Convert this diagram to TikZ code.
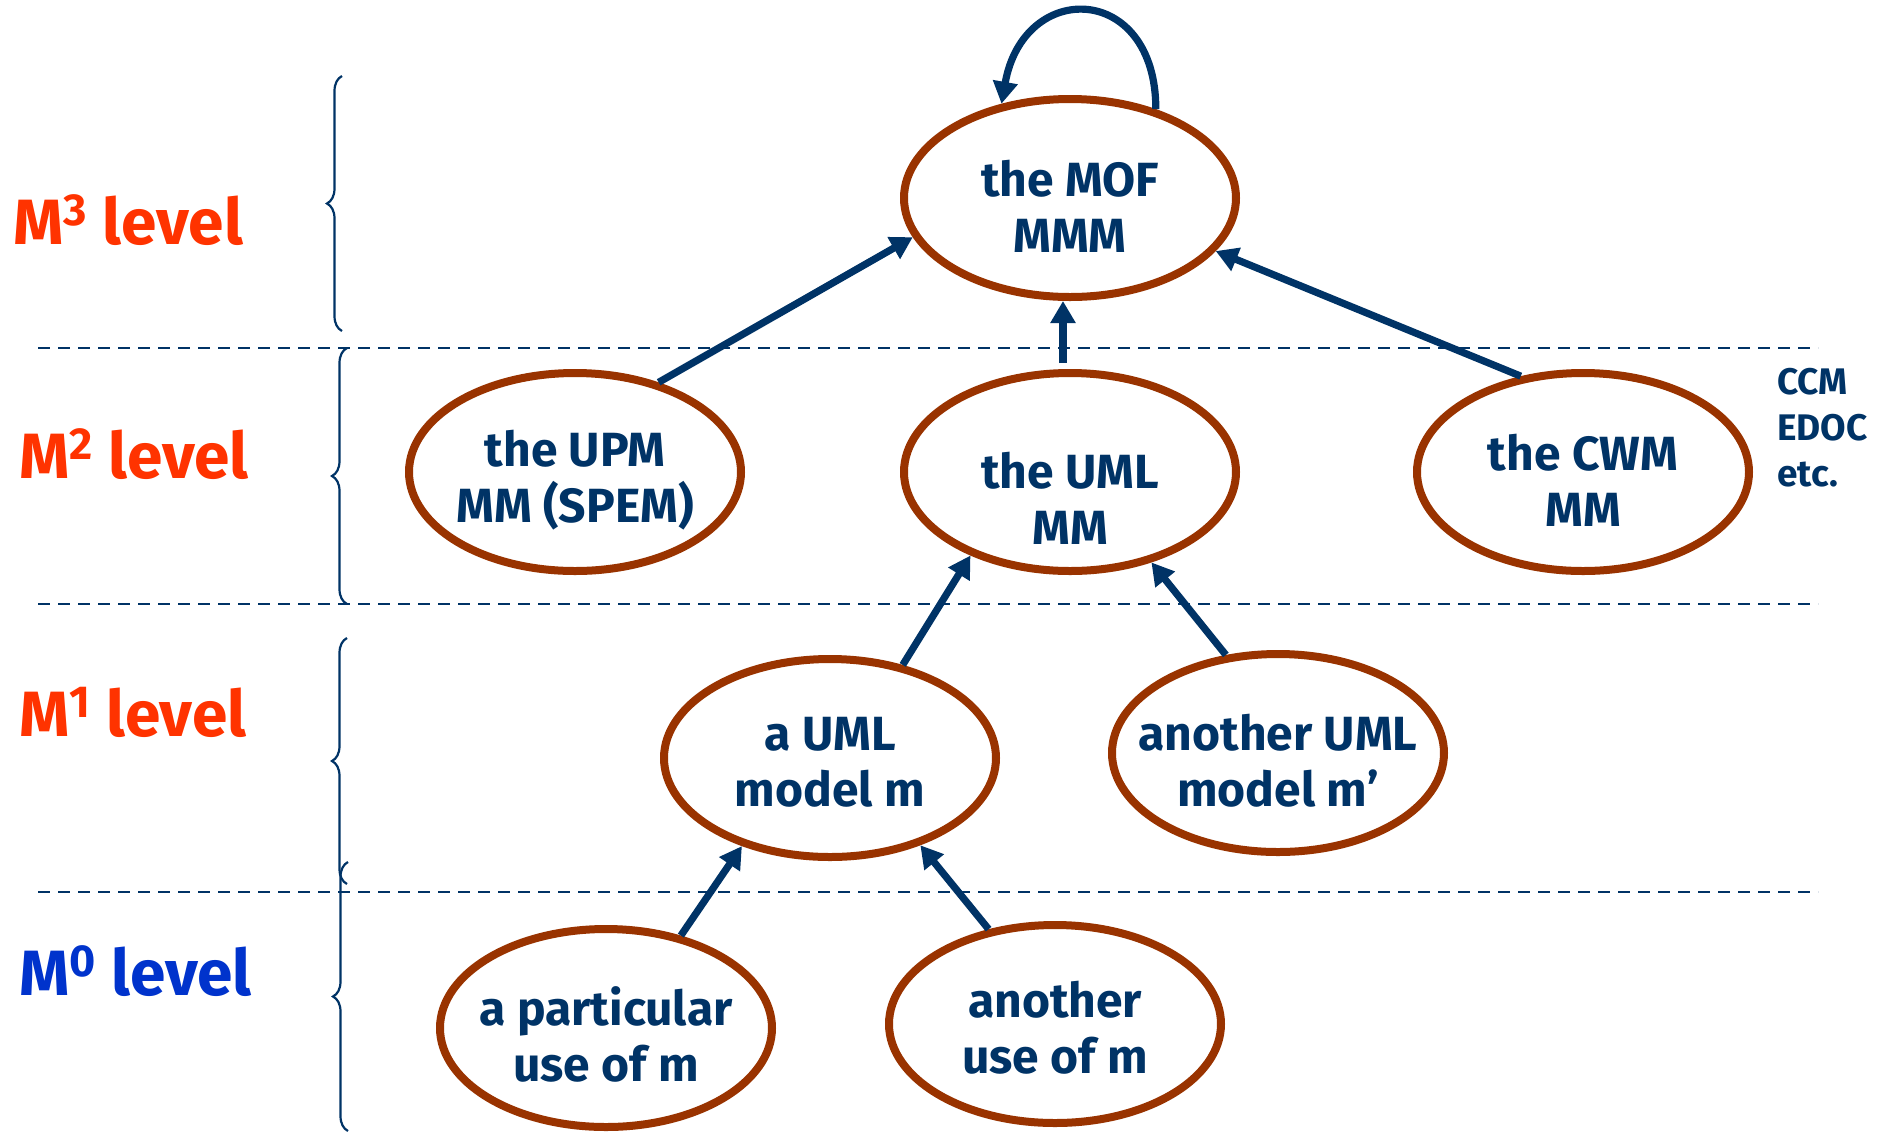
\documentclass[tikz,border=0pt]{standalone}
\usepackage{fontspec}
\setmainfont{Fira Sans}
\usetikzlibrary{shapes.geometric,arrows.meta,decorations.pathreplacing}
\definecolor{navy}{HTML}{003366}
\definecolor{rust}{HTML}{993300}
\definecolor{lvlred}{HTML}{FF3300}
\definecolor{lvlblue}{HTML}{0033CC}
\begin{document}
\begin{tikzpicture}[x=0.5pt,y=-0.5pt,
  ell/.style={ellipse,draw=rust,line width=4pt,minimum width=166pt,minimum height=99pt,inner sep=0pt},
  txt/.style={text=navy,font=\fontsize{24}{28}\selectfont\bfseries,align=center},
  lvl/.style={anchor=base west,font=\fontsize{32}{38}\selectfont\bfseries},
  arr/.style={draw=navy,line width=3.6pt,-{Triangle[length=11pt,width=12pt]}},
  sep/.style={draw=navy,line width=1.3pt,dash pattern=on 6pt off 4pt},
  brc/.style={draw=navy,line width=1.1pt,decorate,decoration={brace,amplitude=7.5pt}}
]
\useasboundingbox (0,0) rectangle (1881,1131);

% level separators
\draw[sep] (38,348) -- (1818,348);
\draw[sep] (38,604) -- (1818,604);
\draw[sep] (38,892) -- (1818,892);

% level braces
\draw[brc] (342,331) -- (342,76);
\draw[brc] (347,604) -- (347,348);
\draw[brc] (347,884) -- (347,638);
\draw[brc] (348,1131) -- (348,862);

% level labels
\node[lvl,text=lvlred] (m3) at (6,244) {M\textsuperscript{3} level};
\node[lvl,text=lvlred] (m2) at (12,478) {M\textsuperscript{2} level};
\node[lvl,text=lvlred] (m1) at (12,736) {M\textsuperscript{1} level};
\node[lvl,text=lvlblue] (m0) at (12,995) {M\textsuperscript{0} level};

% models
\node[ell] (mof)   at (1070,198) {};
\node[ell] (upm)   at (575,472)  {};
\node[ell] (uml)   at (1070,472) {};
\node[ell] (cwm)   at (1583,472) {};
\node[ell] (umlm)  at (830,758)  {};
\node[ell] (umlm2) at (1278,753) {};
\node[ell] (use1)  at (606,1028) {};
\node[ell] (use2)  at (1055,1024) {};

\node[txt,yshift=-4pt]  (mof-t)   at (mof)   {the MOF\\MMM};
\node[txt,yshift=-4pt]  (upm-t)   at (upm)   {the UPM\\MM (SPEM)};
\node[txt,yshift=-13pt] (uml-t)   at (uml)   {the UML\\MM};
\node[txt,yshift=-4pt]  (cwm-t)   at (cwm)   {the CWM\\MM};
\node[txt,yshift=-2pt]  (umlm-t)  at (umlm)  {a UML\\model m};
\node[txt,yshift=-4pt]  (umlm2-t) at (umlm2) {another UML\\model m’};
\node[txt,yshift=-3pt]  (use1-t)  at (use1)  {a particular\\use of m};
\node[txt,yshift=-2pt]  (use2-t)  at (use2)  {another\\use of m};

\node[anchor=west,align=left,text=navy,font=\fontsize{18.5}{23}\selectfont\bfseries] (others) at (1770,428) {CCM\\EDOC\\etc.};

% conformance arrows
\draw[arr] (mof.46) to[out=90,in=80,looseness=2.1] (mof.126);
\draw[arr] (upm.47) -- (mof.194.6);
\draw[arr] ([xshift=-3.5pt,yshift=3pt]uml.north) -- ([xshift=-3.5pt]mof.south);
\draw[arr] (cwm.123) -- (mof.-20);
\draw[arr] (umlm.52) -- (uml.220);
\draw[arr] (umlm2.118) -- (uml.-48);
\draw[arr] (use1.51) -- (umlm.225);
\draw[arr] (use2.125) -- (umlm.-44);
\end{tikzpicture}
\end{document}
